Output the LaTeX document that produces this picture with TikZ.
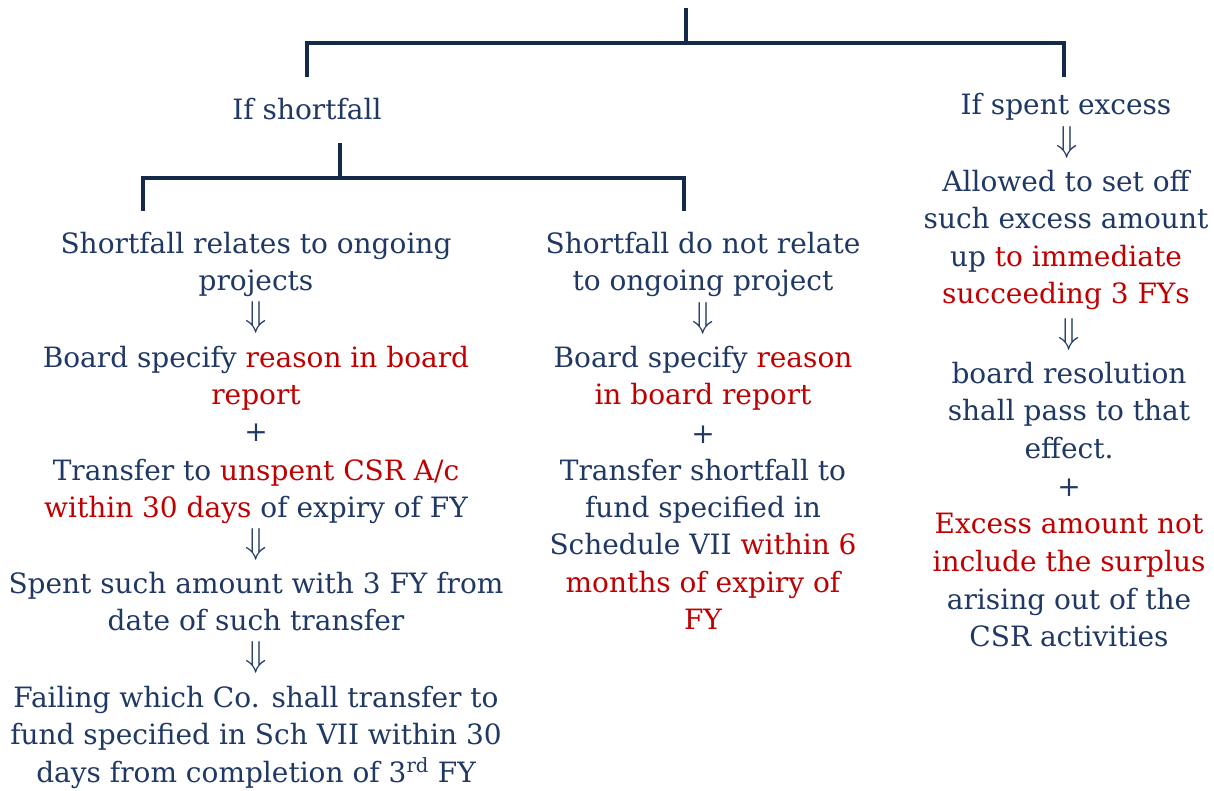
\documentclass[tikz,border=0pt]{standalone}
\usepackage{graphicx}
\usepackage{fontspec}
\setmainfont{DejaVu Serif}
\definecolor{navy}{HTML}{1F3864}
\definecolor{linec}{HTML}{15294A}
\definecolor{rd}{HTML}{C00000}
\newcommand{\rt}[1]{\textcolor{rd}{#1}}
\newcommand{\dn}{\scalebox{1.4}[1.45]{$\Downarrow$}}
\tikzset{
  ln/.style={anchor=base, inner sep=0pt, text=navy, font=\fontsize{28}{32}\selectfont},
  sym/.style={anchor=center, inner sep=0pt, text=navy, font=\fontsize{28}{32}\selectfont},
  arr/.style={anchor=center, inner sep=0pt, text=navy, font=\fontsize{24}{28}\selectfont},
  bar/.style={draw=linec, line width=4.5pt}
}
\begin{document}
\begin{tikzpicture}[x=1pt,y=-1pt]
\useasboundingbox (0,0) rectangle (1214,790);
% bracket coordinates
\coordinate (t0) at (686,8);
\coordinate (t1) at (686,43);
\coordinate (tl) at (307,43);
\coordinate (tr) at (1064,43);
\coordinate (tla) at (307,77);
\coordinate (tra) at (1064,77);
\draw[bar] (t0) -- (t1);
\draw[bar] (tla) -- (tl) -- (tr) -- (tra);
\coordinate (s0) at (340,143);
\coordinate (s1) at (340,178);
\coordinate (sl) at (143,178);
\coordinate (sr) at (684,178);
\coordinate (sla) at (143,211);
\coordinate (sra) at (684,211);
\draw[bar] (s0) -- (s1);
\draw[bar] (sla) -- (sl) -- (sr) -- (sra);
% headings
\node[ln] (h1) at (307,119) {If shortfall};
\node[ln] (h2) at (1066,114) {If spent excess};
% left column
\node[ln] (l1) at (256,253) {Shortfall relates to ongoing};
\node[ln] (l2) at (256,290) {projects};
\node[arr] (l3) at (256,317) {\dn};
\node[ln] (l4) at (256,367) {Board specify \rt{reason in board}};
\node[ln] (l5) at (256,404) {\rt{report}};
\node[sym] (l6) at (256,433) {+};
\node[ln] (l7) at (256,480) {Transfer to \rt{unspent CSR A/c}};
\node[ln] (l8) at (256,517) {\rt{within 30 days} of expiry of FY};
\node[arr] (l9) at (256,544) {\dn};
\node[ln] (l10) at (256,593) {Spent such amount with 3 FY from};
\node[ln] (l11) at (256,630) {date of such transfer};
\node[arr] (l12) at (256,657) {\dn};
\node[ln] (l13) at (256,707) {Failing which Co. shall transfer to};
\node[ln] (l14) at (256,744) {fund specified in Sch VII within 30};
\node[ln] (l15) at (256,782) {days from completion of 3\textsuperscript{rd} FY};
% middle column
\node[ln] (m1) at (703,253) {Shortfall do not relate};
\node[ln] (m2) at (703,290) {to ongoing project};
\node[arr] (m3) at (703,318) {\dn};
\node[ln] (m4) at (703,367) {Board specify \rt{reason}};
\node[ln] (m5) at (703,404) {\rt{in board report}};
\node[sym] (m6) at (703,435) {+};
\node[ln] (m7) at (703,480) {Transfer shortfall to};
\node[ln] (m8) at (703,517) {fund specified in};
\node[ln] (m9) at (703,554) {Schedule VII \rt{within 6}};
\node[ln] (m10) at (703,592) {\rt{months of expiry of}};
\node[ln] (m11) at (703,629) {\rt{FY}};
% right column
\node[arr] (r1) at (1067,142) {\dn};
\node[ln] (r2) at (1066,191) {Allowed to set off};
\node[ln] (r3) at (1066,228) {such excess amount};
\node[ln] (r4) at (1066,266) {up \rt{to immediate}};
\node[ln] (r5) at (1066,303) {\rt{succeeding 3 FYs}};
\node[arr] (r6) at (1069,334) {\dn};
\node[ln] (r7) at (1069,383) {board resolution};
\node[ln] (r8) at (1069,420) {shall pass to that};
\node[ln] (r9) at (1069,458) {effect.};
\node[sym] (r10) at (1069,488) {+};
\node[ln] (r11) at (1069,533) {\rt{Excess amount not}};
\node[ln] (r12) at (1069,571) {\rt{include the surplus}};
\node[ln] (r13) at (1069,609) {arising out of the};
\node[ln] (r14) at (1069,646) {CSR activities};
\end{tikzpicture}
\end{document}
